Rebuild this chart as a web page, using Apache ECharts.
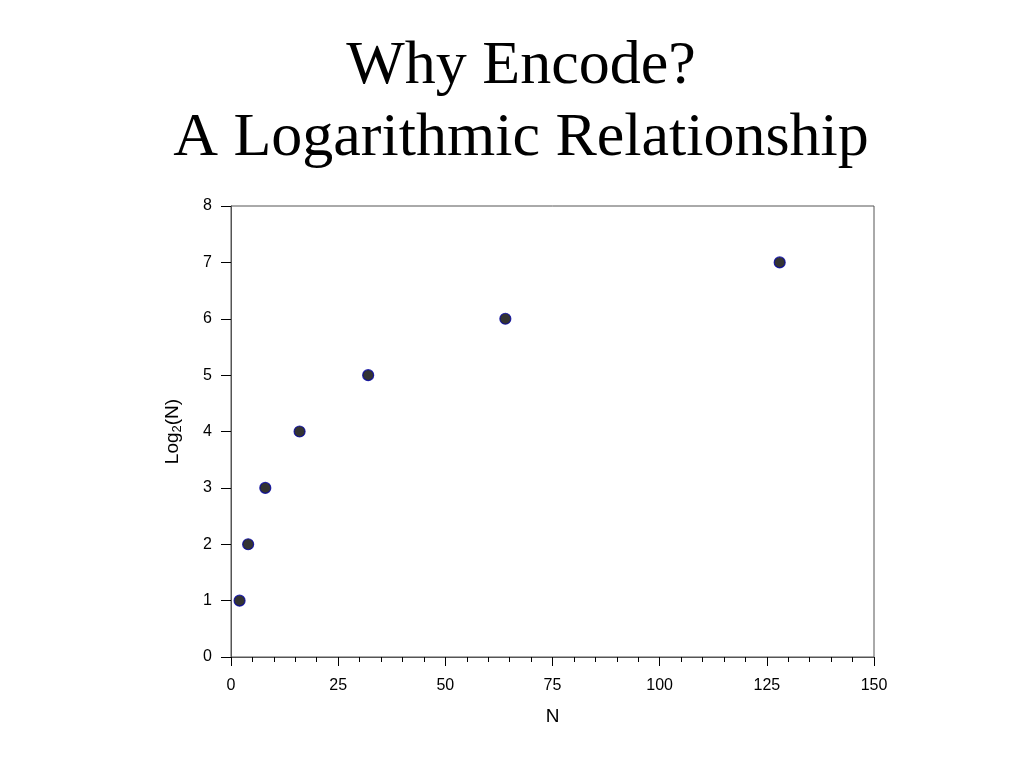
<!DOCTYPE html>
<html><head><meta charset="utf-8">
<script src="https://cdn.jsdelivr.net/npm/echarts@6/dist/echarts.min.js"></script>
<style>html,body{margin:0;padding:0;background:#fff}#c{width:1024px;height:768px}</style>
</head><body><div id="c"></div>
<script>
const titleLines = ['Why Encode?', 'A Logarithmic Relationship'];
const nValues = [2, 4, 8, 16, 32, 64, 128];
const log2Values = [1, 2, 3, 4, 5, 6, 7];
const xName = 'N';

const chart = echarts.init(document.getElementById('c'), null, {renderer: 'canvas'});
const axisColor = '#555';
const sans = '"Liberation Sans", Arial, sans-serif';
chart.setOption({
  animation: false,
  backgroundColor: '#fff',
  title: {
    text: titleLines.join('\n'),
    left: 521, top: 31, padding: 0, textAlign: 'center',
    textStyle: {fontFamily: '"Liberation Serif", "Times New Roman", serif', fontSize: 62, fontWeight: 'normal', color: '#000', lineHeight: 72}
  },
  grid: {left: 231, right: 150, top: 206, bottom: 111, show: true, borderColor: axisColor, borderWidth: 1, containLabel: false},
  xAxis: {
    type: 'value', min: 0, max: 150, interval: 25,
    name: xName, nameLocation: 'middle', nameGap: 50,
    nameTextStyle: {fontFamily: sans, fontSize: 19, color: '#000'},
    axisLine: {show: true, lineStyle: {color: axisColor, width: 1}},
    axisTick: {show: true, length: 9, inside: false, lineStyle: {color: '#000'}},
    minorTick: {show: true, splitNumber: 5, length: 5, lineStyle: {color: '#000'}},
    axisLabel: {fontFamily: sans, fontSize: 16, color: '#000', margin: 21},
    splitLine: {show: false}
  },
  yAxis: {
    type: 'value', min: 0, max: 8, interval: 1,
    name: '{a|Log}{s|2}{a|(N)}', nameLocation: 'middle', nameGap: 47, nameRotate: 90,
    nameTextStyle: {
      rich: {
        a: {fontFamily: sans, fontSize: 19, color: '#000'},
        s: {fontFamily: sans, fontSize: 13, color: '#000', padding: [9, 0, 0, 0]}
      }
    },
    axisLine: {show: true, lineStyle: {color: axisColor, width: 1}},
    axisTick: {show: true, length: 10, inside: false, lineStyle: {color: '#000'}},
    axisLabel: {fontFamily: sans, fontSize: 16, color: '#000', margin: 19},
    splitLine: {show: false}
  },
  series: [{
    type: 'scatter',
    data: nValues.map((n, i) => [n, log2Values[i]]),
    symbol: 'circle', symbolSize: 11,
    itemStyle: {color: '#000', borderColor: '#0000a0', borderWidth: 1.2}
  }]
});
</script></body></html>
